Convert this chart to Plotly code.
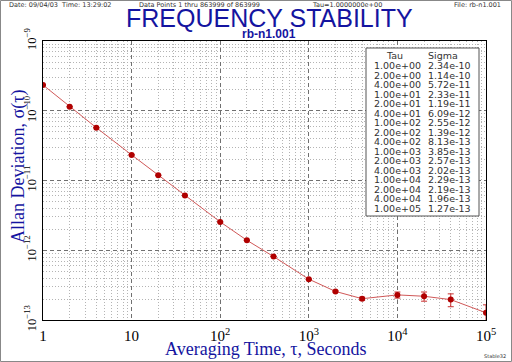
import plotly.graph_objects as go

# ---- data ----
tau = [1, 2, 4, 10, 20, 40, 100, 200, 400, 1e3, 2e3, 4e3, 1e4, 2e4, 4e4, 1e5]
sigma = [2.34e-10, 1.14e-10, 5.72e-11, 2.33e-11, 1.19e-11, 6.09e-12, 2.55e-12,
         1.39e-12, 8.13e-13, 3.85e-13, 2.57e-13, 2.02e-13, 2.29e-13, 2.19e-13,
         1.96e-13, 1.27e-13]
err = [8e-13, 3e-13, 1.2e-13, 4e-14, 2e-14, 1e-14, 4e-15,
       2.5e-15, 2e-15, 3e-15, 6e-15, 1.0e-14, 2.3e-14, 3.3e-14,
       4.1e-14, 3.8e-14]

title = "FREQUENCY STABILITY"
subtitle = "rb-n1.001"
header = ["Date: 09/04/03  Time: 13:29:02", "Data Points 1 thru 863999 of 863999",
          "Tau=1.0000000e+00", "File: rb-n1.001"]
x_title = "Averaging Time, \u03c4, Seconds"
y_title = "Allan Deviation, \u03c3(\u03c4)"

# ---- layout geometry (pixels) ----
W, H = 512, 362
L, R, T, B = 43, 486, 41, 320
PW, PH = R - L, B - T

def px(x):
    return (x - L) / PW

def py(y):
    return (B - y) / PH

BLUE = "#1414a0"
fig = go.Figure()
fig.add_trace(go.Scatter(
    x=tau, y=sigma, mode="lines+markers",
    line=dict(color="#d05858", width=1),
    marker=dict(color="#b00000", size=6, symbol="circle"),
    error_y=dict(type="data", array=err, visible=True, color="#c83030",
                 thickness=1, width=3),
    showlegend=False,
))

grid_minor = dict(showgrid=True, gridcolor="#b4b4b4", griddash="1px,2px", gridwidth=1,
                  dtick="D1", ticks="")
axis_common = dict(type="log", showline=True, mirror=True, linecolor="black", linewidth=1,
                   showgrid=True, gridcolor="#707070", griddash="4px,3px", gridwidth=1,
                   exponentformat="power", zeroline=False, ticks="", automargin=False,
                   minor=grid_minor)
fig.update_xaxes(range=[0, 5], dtick=1, ticklabelstandoff=3,
                 tickfont=dict(family="Liberation Serif", size=12, color="black"), **axis_common)
fig.update_yaxes(range=[-13, -9], dtick=1, tickangle=-90, ticklabelstandoff=2,
                 tickfont=dict(family="Liberation Serif", size=10, color="black"), **axis_common)

ann = []

def add(text, x, y, font, xanchor="center", yanchor="middle", **kw):
    ann.append(dict(text=text, x=px(x), y=py(y), xref="paper", yref="paper",
                    xanchor=xanchor, yanchor=yanchor, showarrow=False, font=font, **kw))

add(title, 269, 18, dict(family="Liberation Sans", size=25, color=BLUE))
add("<b>" + subtitle + "</b>", 269, 34, dict(family="Liberation Sans", size=12, color=BLUE))
hfont = dict(family="DejaVu Sans", size=6.5, color="#333333")
for (x, anc), t in zip([(7, "left"), (137, "left"), (310, "left"), (503, "right")], header):
    add(t, x, 4.5, hfont, xanchor=anc)
add(x_title, 265, 349, dict(family="Liberation Serif", size=18, color=BLUE))
add(y_title, 18, 167, dict(family="Liberation Serif", size=18, color=BLUE), textangle=-90)

tfont = dict(family="DejaVu Sans", size=9.5, color="#333333")
add("Tau", 394, 55, tfont)
add("Sigma", 443, 55, tfont)
for i, (t, s) in enumerate(zip(tau, sigma)):
    yy = 65.5 + i * 9.53
    add(f"{t:.2e}", 372, yy, tfont, xanchor="left")
    add(f"{s:.2e}", 426, yy, tfont, xanchor="left")
add("Stable32", 508, 356, dict(family="DejaVu Sans", size=5, color="#333333"), xanchor="right")

shapes = [
    dict(type="rect", xref="paper", yref="paper", x0=px(366), x1=px(479), y0=py(216), y1=py(48),
         line=dict(color="#555555", width=1), fillcolor="white", layer="above"),
    dict(type="rect", xref="paper", yref="paper", x0=px(0.5), x1=px(511.5), y0=py(361.5), y1=py(0.5),
         line=dict(color="#888888", width=1), fillcolor="rgba(0,0,0,0)", layer="above"),
]

fig.update_layout(
    width=W, height=H, autosize=False,
    margin=dict(l=L, r=W - R, t=T, b=H - B, pad=0),
    paper_bgcolor="white", plot_bgcolor="white",
    annotations=ann, shapes=shapes,
)
fig.write_html("out.html", config={"displayModeBar": False},
               post_script="document.body.style.margin='0px';document.body.style.overflow='hidden';")
